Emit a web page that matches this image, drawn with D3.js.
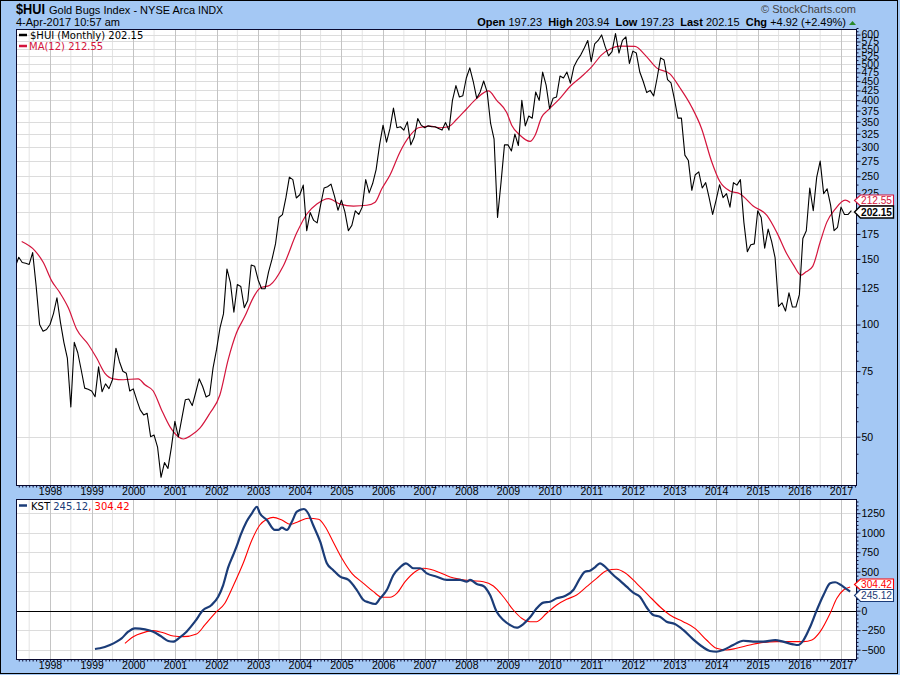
<!DOCTYPE html>
<html><head><meta charset="utf-8">
<script src="https://cdn.jsdelivr.net/npm/d3@7"></script>
<style>
body{margin:0;background:#A4C8F4;}
svg{display:block;font-family:"Liberation Sans",Arial,sans-serif;}
</style>
</head><body>
<svg id="c" width="900" height="675"></svg>
<script>
// ---------- DATA ----------
const huiFirstMonth = "1997-03";
const huiValues = [
143,151.5,146.7,146,145,156,127,100,96,97,
100,107,118,101.5,89.6,81.3,60.1,89.6,84,75.5,67.5,67,
66.3,64,77,66,69.3,67.3,71.1,86.4,79.6,74.9,74,66.3,
67.2,62.8,59,57.2,57.8,50,50.5,46.9,38.9,42.6,41.1,46.9,
55,49.9,56,62.8,63.1,60.6,65.7,71.5,68.2,63.9,64.7,76.5,
85.6,98,106.8,141,129.6,107.9,128,126.5,111,116,144.5,143.3,
131.7,124.7,124.8,138.5,149.8,164.6,193.8,197.3,219,248.6,244.8,218.6,
223,236.7,178.6,199.9,190.3,187.4,209.4,232.5,234.3,238.1,221,202.7,
215.7,200.5,178.6,184.6,202,197.4,206.6,244.8,225.6,239,260.5,303.5,
342.8,308.7,336,381,337.4,339.5,332.5,349.9,303.5,318.7,357,342.8,
337.4,341.4,339.5,339.5,336,332.5,348.4,332.5,399.6,437.9,408.1,411.4,
458.8,488.5,449,404.6,421,450.5,421,346.4,314.3,193.8,240.4,303.5,
303.5,292.4,324.3,302.3,399.6,341.4,362.8,358,421,399.6,476,439,
379.5,404.6,408,464.4,458.8,476,444.6,491.6,512.8,529.4,552,578.7,
507.3,566.9,578.7,598.8,558,526.2,539.8,604,535.3,578.7,591.5,501.9,
541.7,535.3,476,449,419.3,425,410.6,458.8,519.6,512.8,454,445,
402,358,358,284.9,275.7,229.2,252.4,256.8,232.5,240.4,218.6,197.4,
215.7,237.3,219,224.5,206.6,240.4,236.7,244.8,188.3,156.9,163.7,164.6,
202,193.8,160.3,180.3,167.1,151.2,111.8,114.3,108.7,121.6,111.4,111.4,
120.3,170.2,178.6,232.5,202,248.6,274.6,224.5,231.4,209.1,178.6,182.4,
206.6,197.3,197.3,202.15];

const maYears = [1997.32,1997.64,1997.84,1998.04,1998.24,1998.44,1998.64,1998.92,1999.12,1999.32,
1999.52,1999.76,2000.12,2000.28,2000.48,2000.68,2000.88,2001.08,2001.20,2001.40,
2001.60,2001.84,2002.08,2002.28,2002.48,2002.68,2002.88,2003.04,2003.28,2003.60,
2003.93,2004.17,2004.41,2004.69,2004.97,2005.29,2005.61,2005.81,2005.97,2006.17,
2006.41,2006.65,2006.85,2007.13,2007.37,2007.57,2007.77,2008.01,2008.25,2008.53,
2008.73,2008.97,2009.09,2009.29,2009.53,2009.65,2009.81,2009.97,2010.25,2010.49,
2010.77,2011.01,2011.25,2011.49,2011.69,2012.05,2012.29,2012.57,2012.89,2013.13,
2013.41,2013.65,2013.89,2014.09,2014.33,2014.57,2014.89,2015.22,2015.46,2015.70,
2015.85,2016.04,2016.16,2016.32,2016.50,2016.66,2016.86,2017.10,2017.22];
const maValues = [167,157.7,146.7,131,121.6,110.9,97.1,88.4,81.3,74,
71.5,71.1,71.5,68.9,66.3,59,53.2,50,49.3,50.5,
52.7,57.8,64.7,80.5,95,105.2,117.9,125.2,127.5,143.3,
176.5,198,210.5,217.7,210.5,208,209,213,231.4,252.4,
291,321.7,337.4,340.6,337.4,339.5,355.5,379.5,404.6,423.6,
399.6,370.5,342.8,322,310,321.7,360.3,376.8,404.6,435.3,
463.2,491.6,529.4,551.6,558.8,558,529.4,488.5,470.6,432,
384.3,336,274.4,242,228.3,224.5,208,196.3,176.5,154.6,
145.1,135.7,138.5,143.3,166.5,188.3,204.1,215.7,212.55];

const kstYears = [1999.08,1999.20,1999.44,1999.60,1999.72,1999.88,2000.04,2000.28,2000.48,2000.68,
2000.84,2000.96,2001.12,2001.28,2001.48,2001.68,2001.88,2002.04,2002.16,2002.28,
2002.40,2002.48,2002.58,2002.72,2002.85,2002.97,2003.04,2003.21,2003.40,2003.48,
2003.57,2003.69,2003.81,2003.93,2004.10,2004.20,2004.32,2004.49,2004.65,2004.80,
2004.97,2005.17,2005.37,2005.53,2005.65,2005.81,2005.93,2006.09,2006.25,2006.41,
2006.55,2006.73,2006.89,2007.05,2007.29,2007.53,2007.85,2008.01,2008.09,2008.25,
2008.41,2008.57,2008.73,2008.89,2009.05,2009.21,2009.37,2009.53,2009.69,2009.85,
2010.01,2010.17,2010.37,2010.57,2010.73,2010.85,2010.97,2011.09,2011.21,2011.37,
2011.53,2011.69,2011.85,2012.01,2012.17,2012.33,2012.49,2012.65,2012.81,2013.01,
2013.21,2013.45,2013.69,2013.85,2014.01,2014.17,2014.41,2014.65,2014.89,2015.13,
2015.42,2015.61,2015.85,2015.97,2016.10,2016.26,2016.42,2016.58,2016.74,2016.86,
2016.98,2017.10,2017.22];
const kstValues = [-491,-482,-440,-397,-354,-269,-226,-239,-269,-333,
-388,-397,-341,-269,-141,9,73,179,329,556,
714,821,971,1141,1249,1333,1249,1163,1035,1035,
1064,1035,1141,1269,1304,1249,1099,885,608,522,
436,394,265,137,108,86,159,265,458,556,
608,544,544,479,436,394,394,372,394,342,
317,201,-13,-119,-183,-218,-171,-85,31,103,
115,159,188,265,415,500,513,556,608,544,
458,385,308,231,179,44,-55,-77,-141,-171,
-247,-367,-469,-517,-526,-504,-440,-385,-397,-397,
-376,-397,-431,-440,-376,-205,9,201,351,365,
335,290,245];

const sigYears = [1999.80,2000.00,2000.24,2000.48,2000.72,2000.96,2001.20,2001.52,2001.72,2001.96,
2002.20,2002.40,2002.64,2002.85,2003.04,2003.21,2003.36,2003.57,2003.77,2003.96,
2004.20,2004.45,2004.61,2004.80,2005.01,2005.25,2005.53,2005.77,2005.97,2006.17,
2006.33,2006.53,2006.77,2006.97,2007.13,2007.37,2007.61,2007.85,2008.09,2008.41,
2008.65,2008.89,2009.13,2009.33,2009.53,2009.69,2009.93,2010.17,2010.41,2010.65,
2010.89,2011.13,2011.37,2011.61,2011.81,2012.09,2012.37,2012.65,2012.89,2013.21,
2013.49,2013.77,2014.01,2014.25,2014.49,2014.81,2015.13,2015.46,2015.78,2016.10,
2016.30,2016.50,2016.74,2016.90,2017.06,2017.22];
const sigValues = [-418,-333,-282,-256,-282,-324,-333,-299,-183,-33,
95,317,608,906,1099,1172,1197,1163,1108,1141,
1185,1172,1077,885,672,479,351,244,172,172,
223,372,500,544,531,487,432,403,385,372,
317,179,9,-97,-141,-141,-33,73,146,201,
308,415,513,531,487,351,201,51,-55,-141,
-226,-376,-482,-504,-482,-440,-406,-397,-397,-397,
-376,-269,-33,159,265,304];

const yearTicks = [1998,1999,2000,2001,2002,2003,2004,2005,2006,2007,2008,2009,2010,2011,2012,2013,2014,2015,2016,2017];
const priceTicks = [50,75,100,125,150,175,200,225,250,275,300,325,350,375,400,425,450,475,500,525,550,575,600];
const kstTicks = [-500,-250,0,250,500,750,1000,1250];
const hiddenPriceLabels = [200];   // covered by the last-value tags in the reference
const hiddenKstLabels = [250];
const lastHUI = "202.15", lastMA = "212.55", lastKST = "245.12", lastSig = "304.42";

// ---------- LAYOUT ----------
const svg = d3.select("#c");
const L = 16, R = 856, T1 = 29, B1 = 485, T2 = 499, B2 = 659;
const BLUE = "#A4C8F4", NAVY = "#1B3C78", CRIMSON = "#D4143C";

svg.append("rect").attr("x",0.5).attr("y",0.5).attr("width",897).attr("height",673)
  .attr("fill",BLUE).attr("stroke","#000").attr("stroke-width",1);

const x = d3.scaleLinear().domain([1998,2017]).range([50,841]);
const yP = d3.scaleLog().domain([50,600]).range([436.7,34.6]);
const yK = d3.scaleLinear().domain([-500,1250]).range([649.7,513.2]);

const parseM = d3.timeParse("%Y-%m");
const m0 = parseM(huiFirstMonth);
const huiData = huiValues.map((v,i)=>{
  const d = d3.timeMonth.offset(m0,i);
  return {t: d.getFullYear() + d.getMonth()/12, v};
});

const defs = svg.append("defs");
defs.append("clipPath").attr("id","cp1").append("rect").attr("x",L).attr("y",T1).attr("width",R-L).attr("height",B1-T1);
defs.append("clipPath").attr("id","cp2").append("rect").attr("x",L).attr("y",T2).attr("width",R-L).attr("height",B2-T2);

svg.append("rect").attr("x",L).attr("y",T1).attr("width",R-L).attr("height",B1-T1).attr("fill","#fff");
svg.append("rect").attr("x",L).attr("y",T2).attr("width",R-L).attr("height",B2-T2).attr("fill","#fff");

function grid(g, top, bottom, hVals, yScale){
  const midYears = yearTicks.map(y=>y-0.5).concat([2017.5]).filter(v=>x(v)>L && x(v)<R);
  g.selectAll("line.mid").data(midYears).join("line")
    .attr("x1",d=>x(d)).attr("x2",d=>x(d)).attr("y1",top).attr("y2",bottom)
    .attr("stroke","#e3e3e3").attr("stroke-width",1);
  g.selectAll("line.h").data(hVals).join("line").attr("class","h")
    .attr("x1",L).attr("x2",R).attr("y1",d=>Math.round(yScale(d))+0.5).attr("y2",d=>Math.round(yScale(d))+0.5)
    .attr("stroke","#dcdcdc").attr("stroke-width",1);
  g.selectAll("line.yr").data(yearTicks).join("line").attr("class","yr")
    .attr("x1",d=>Math.round(x(d))+0.5).attr("x2",d=>Math.round(x(d))+0.5).attr("y1",top).attr("y2",bottom)
    .attr("stroke","#c4c4c4").attr("stroke-width",1);
}
grid(svg.append("g"), T1, B1, priceTicks, yP);
grid(svg.append("g"), T2, B2, kstTicks, yK);

svg.append("line").attr("x1",L).attr("x2",R).attr("y1",Math.round(yK(0))+0.5).attr("y2",Math.round(yK(0))+0.5)
  .attr("stroke","#000").attr("stroke-width",1);

// ---------- LINES ----------
const g1 = svg.append("g").attr("clip-path","url(#cp1)");
g1.append("path").datum(maYears.map((t,i)=>({t,v:maValues[i]})))
  .attr("fill","none").attr("stroke",CRIMSON).attr("stroke-width",1.2)
  .attr("d", d3.line().x(d=>x(d.t)).y(d=>yP(d.v)).curve(d3.curveMonotoneX));
g1.append("path").datum(huiData)
  .attr("fill","none").attr("stroke","#000").attr("stroke-width",1.1).attr("stroke-linejoin","round")
  .attr("d", d3.line().x(d=>x(d.t)).y(d=>yP(d.v)));

const g2 = svg.append("g").attr("clip-path","url(#cp2)");
g2.append("path").datum(sigYears.map((t,i)=>({t,v:sigValues[i]})))
  .attr("fill","none").attr("stroke","#FF0000").attr("stroke-width",1.1)
  .attr("d", d3.line().x(d=>x(d.t)).y(d=>yK(d.v)).curve(d3.curveMonotoneX));
g2.append("path").datum(kstYears.map((t,i)=>({t,v:kstValues[i]})))
  .attr("fill","none").attr("stroke",NAVY).attr("stroke-width",2.2)
  .attr("d", d3.line().x(d=>x(d.t)).y(d=>yK(d.v)).curve(d3.curveMonotoneX));

[[T1,B1],[T2,B2]].forEach(([t,b])=>{
  svg.append("rect").attr("x",L+0.5).attr("y",t+0.5).attr("width",R-L).attr("height",b-t)
    .attr("fill","none").attr("stroke","#0a0a30").attr("stroke-width",1);
});

// ---------- AXES ----------
function styleAxis(g){
  g.select(".domain").attr("stroke","#0a0a30");
  g.selectAll(".tick line").attr("stroke","#0a0a30");
  g.selectAll("text").attr("font-size","10.5px").attr("fill","#000")
    .attr("font-family","'Liberation Sans',Arial,sans-serif");
}
const minorP = d3.range(40,100,5).concat(d3.range(100,626,12.5)).filter(v=>priceTicks.indexOf(v)<0);
const aPm = svg.append("g").attr("transform",`translate(${R+0.5},0)`)
  .call(d3.axisRight(yP).tickValues(minorP).tickSize(2).tickFormat(""));
aPm.select(".domain").remove(); aPm.selectAll("line").attr("stroke","#0a0a30");
const aP = svg.append("g").attr("transform",`translate(${R+0.5},0)`)
  .call(d3.axisRight(yP).tickValues(priceTicks).tickSize(4).tickPadding(1)
    .tickFormat(d=>hiddenPriceLabels.indexOf(d)>=0?"":d3.format("d")(d)).tickSizeOuter(0));
styleAxis(aP); aP.select(".domain").attr("d",`M0,${T1}V${B1}`);

const minorK = d3.range(-600,1450,50).filter(v=>kstTicks.indexOf(v)<0);
const aKm = svg.append("g").attr("transform",`translate(${R+0.5},0)`)
  .call(d3.axisRight(yK).tickValues(minorK).tickSize(2).tickFormat(""));
aKm.select(".domain").remove(); aKm.selectAll("line").attr("stroke","#0a0a30");
aKm.selectAll(".tick").filter(d=>yK(d)<T2||yK(d)>B2).remove();
const aK = svg.append("g").attr("transform",`translate(${R+0.5},0)`)
  .call(d3.axisRight(yK).tickValues(kstTicks).tickSize(4).tickPadding(1)
    .tickFormat(d=>hiddenKstLabels.indexOf(d)>=0?"":d3.format("d")(d)).tickSizeOuter(0));
styleAxis(aK); aK.select(".domain").attr("d",`M0,${T2}V${B2}`);

const months = d3.range(1997.25, 2017.42, 1/12).filter(v=>x(v)>L && x(v)<R);
[B1,B2].forEach(yy=>{
  const mt = svg.append("g").attr("transform",`translate(0,${yy+0.5})`)
    .call(d3.axisBottom(x).tickValues(months).tickSize(2).tickFormat(""));
  mt.select(".domain").remove(); mt.selectAll("line").attr("stroke","#0a0a30");
  const ax = svg.append("g").attr("transform",`translate(0,${yy})`)
    .call(d3.axisBottom(x).tickValues(yearTicks).tickSize(0).tickPadding(3).tickFormat(d3.format("d")));
  ax.select(".domain").remove(); styleAxis(ax);
});

// ---------- VALUE TAGS ----------
function tag(cy, h, txt, stroke, color, bold){
  const x0 = R+0.5, tip = x0-2, w = 37;
  svg.append("path")
    .attr("d",`M${tip},${cy} L${x0+4},${cy-h/2} H${x0+w} V${cy+h/2} H${x0+4} Z`)
    .attr("fill","#fff").attr("stroke",stroke).attr("stroke-width",bold?1.4:1.1);
  svg.append("text").attr("x",x0+4.5).attr("y",cy+3.8).text(txt)
    .attr("font-size","10.5px").attr("fill",color).attr("font-weight",bold?"bold":"normal")
    .attr("textLength",31).attr("lengthAdjust","spacingAndGlyphs");
}
tag(200.5, 11, lastMA, CRIMSON, CRIMSON, false);
tag(212, 12, lastHUI, "#000", "#000", true);
tag(584.5, 11, lastSig, "#FF0000", "#FF0000", false);
tag(595.5, 12, lastKST, NAVY, NAVY, false);

// ---------- LEGENDS ----------
const legFont = "'DejaVu Sans',Verdana,sans-serif";
function swatch(yy,color){ svg.append("line").attr("x1",19).attr("x2",27).attr("y1",yy).attr("y2",yy).attr("stroke",color).attr("stroke-width",2.5); }
swatch(35,"#000");
svg.append("text").attr("x",30).attr("y",39).attr("font-family",legFont).attr("font-size","10px").attr("fill","#000").text("$HUI (Monthly) " + lastHUI);
swatch(46,CRIMSON);
svg.append("text").attr("x",29).attr("y",50).attr("font-family",legFont).attr("font-size","10px").attr("fill",CRIMSON).text("MA(12) " + lastMA);
swatch(505.5,NAVY);
const kl = svg.append("text").attr("x",31).attr("y",509.5).attr("font-family",legFont).attr("font-size","10px");
kl.append("tspan").attr("fill","#000").text("KST ");
kl.append("tspan").attr("fill",NAVY).text(lastKST);
kl.append("tspan").attr("fill","#FF0000").text(", " + lastSig);

// ---------- HEADER ----------
svg.append("text").attr("x",16).attr("y",14).attr("font-size","14px").attr("font-weight","bold")
  .attr("textLength",29).attr("lengthAdjust","spacingAndGlyphs").text("$HUI");
svg.append("text").attr("x",49).attr("y",13.5).attr("font-size","11px").text("Gold Bugs Index - NYSE Arca");
svg.append("text").attr("x",198).attr("y",13.5).attr("font-size","10.5px").text("INDX");
svg.append("text").attr("x",16).attr("y",26).attr("font-size","11px").text("4-Apr-2017 10:57 am");
svg.append("text").attr("x",856).attr("y",13).attr("text-anchor","end").attr("font-size","11px").attr("fill","#444").text("© StockCharts.com");
const hdr = svg.append("text").attr("x",846).attr("y",26).attr("text-anchor","end").attr("font-size","11px");
[["Open ",true],["197.23  ",false],["High ",true],["203.94  ",false],["Low ",true],["197.23  ",false],
 ["Last ",true],["202.15  ",false],["Chg ",true],["+4.92 (+2.49%)",false]].forEach(([t,b])=>{
  hdr.append("tspan").attr("font-weight",b?"bold":"normal").attr("xml:space","preserve").text(t);
});
svg.append("path").attr("d","M849,25 L852.5,21 L856,25 Z").attr("fill","#2a8a2a");
</script>
</body></html>
